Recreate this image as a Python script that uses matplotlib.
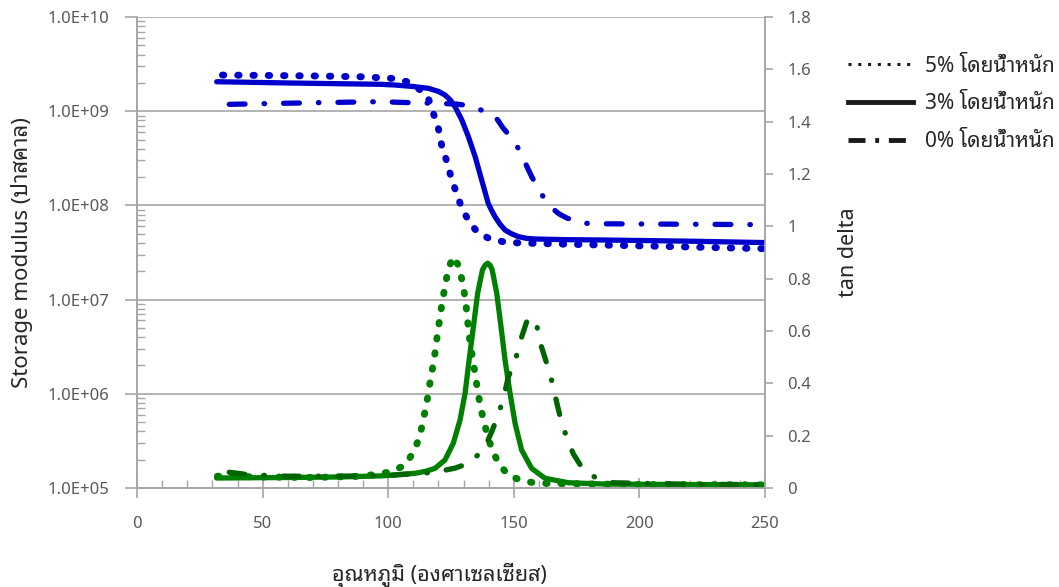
import numpy as np
import matplotlib
matplotlib.use('Agg')
import matplotlib.pyplot as plt
from matplotlib.lines import Line2D
from matplotlib.ticker import FixedLocator, FuncFormatter, MultipleLocator, NullFormatter

# fuente con glifos tailandeses
plt.rcParams['font.family'] = ['Noto Sans', 'Noto Sans Thai Looped']

# ---- datos ----
# storage modulus (Pa), 5% โดยน้ำหนัก
T_e5 = [34, 50, 70, 90, 101.4, 107.4, 110.0, 112.7, 115.8, 117.8, 119.8, 121.4, 123.4, 125.0, 127.0,
        129.0, 131.8, 135.4, 140.5, 146.5, 152.5, 175, 200, 225, 250]
E_5 = [2.42e9, 2.40e9, 2.37e9, 2.32e9, 2.23e9, 2.06e9, 1.91e9, 1.68e9, 1.41e9, 9.75e8, 6.93e8,
       4.17e8, 2.89e8, 2.00e8, 1.39e8, 9.86e7, 7.00e7, 5.22e7, 4.40e7, 4.08e7, 3.99e7, 3.85e7,
       3.72e7, 3.59e7, 3.47e7]
# 3% โดยน้ำหนัก
T_e3 = [31.7, 60, 80, 96.7, 102.7, 110, 116.0, 120, 122.6, 124.7, 126.6, 129.3, 131.9, 134.6,
        137.2, 138.5, 139.8, 141.2, 142.5, 144.5, 146.5, 149, 151.8, 155, 158.4, 170, 186.3, 220, 250]
E_3 = [2.056e9, 1.995e9, 1.959e9, 1.932e9, 1.897e9, 1.828e9, 1.750e9, 1.622e9, 1.486e9, 1.318e9,
       1.117e9, 8.07e8, 5.37e8, 3.30e8, 1.86e8, 1.40e8, 1.052e8, 8.79e7, 7.59e7, 6.31e7, 5.48e7,
       5.01e7, 4.66e7, 4.47e7, 4.40e7, 4.33e7, 4.29e7, 4.17e7, 4.03e7]
# 0% โดยน้ำหนัก
T_e0 = [36.7, 70, 96.7, 109.9, 120, 127.3, 130.2, 135, 140.8, 143.5, 145.7, 148.1, 150.5, 153.8,
        157.1, 158.8, 160.4, 162.5, 164.8, 168, 171.1, 174.4, 178.3, 185.5, 220, 250]
E_0 = [1.183e9, 1.230e9, 1.262e9, 1.230e9, 1.211e9, 1.191e9, 1.164e9, 1.072e9, 9.51e8, 8.13e8,
       6.64e8, 5.58e8, 4.71e8, 3.11e8, 2.02e8, 1.69e8, 1.40e8, 1.15e8, 9.55e7, 8.13e7, 7.35e7,
       6.82e7, 6.46e7, 6.38e7, 6.31e7, 6.24e7]

# tan delta
T_t5 = [32, 50, 70, 90, 101.4, 106.7, 110.0, 112.3, 113.7, 114.9, 116.0, 116.9, 118.0, 118.9,
        119.7, 120.6, 121.5, 122.6, 123.7, 125.7, 128.3, 129.5, 130.6, 131.3, 131.9, 132.6, 133.6,
        134.6, 135.5, 136.5, 137.9, 139.4, 141.2, 143.8, 147.6, 153.1, 159.1, 200, 250]
tan_5 = [0.045, 0.042, 0.04, 0.045, 0.062, 0.088, 0.136, 0.19, 0.247, 0.307, 0.362, 0.42, 0.476,
         0.536, 0.595, 0.652, 0.712, 0.769, 0.827, 0.884, 0.846, 0.786, 0.729, 0.67, 0.61, 0.553,
         0.496, 0.436, 0.378, 0.321, 0.26, 0.205, 0.149, 0.097, 0.05, 0.028, 0.018, 0.013, 0.012]
T_t3 = [31.7, 60, 80, 96.7, 102.7, 110.7, 115, 118.6, 122.6, 125.9, 128.6, 130.6, 132.2, 133.9,
        135.6, 137.5, 138.6, 139.6, 140.5, 141.4, 143.2, 144.9, 146.5, 148.5, 150.5, 153.1, 157.1,
        162.4, 171.7, 186.3, 220, 250]
tan_3 = [0.038, 0.04, 0.042, 0.046, 0.05, 0.056, 0.064, 0.075, 0.107, 0.171, 0.26, 0.362, 0.489,
         0.616, 0.744, 0.833, 0.852, 0.859, 0.852, 0.833, 0.744, 0.616, 0.489, 0.362, 0.247, 0.145,
         0.075, 0.037, 0.020, 0.015, 0.013, 0.012]
T_t0 = [36.7, 45, 60, 80, 100, 118.6, 126.6, 132.6, 138.3, 141.2, 143.8, 146.1, 147.8, 150.5,
        152.5, 155.1, 156.4, 157.8, 159.1, 160.8, 163.1, 165.1, 166.5, 168.5, 171.1, 173.7, 177.7,
        183.0, 189.5, 220, 250]
tan_0 = [0.06, 0.05, 0.045, 0.045, 0.048, 0.06, 0.076, 0.096, 0.152, 0.215, 0.279, 0.352, 0.425,
         0.483, 0.559, 0.635, 0.652, 0.645, 0.623, 0.546, 0.476, 0.41, 0.35, 0.27, 0.19, 0.13,
         0.069, 0.037, 0.02, 0.014, 0.013]

etiquetas = ['5% โดยน้ำหนัก', '3% โดยน้ำหนัก', '0% โดยน้ำหนัก']

# estilos (en unidades de grosor de línea)
punteado = (0, (0.2, 2.0))
rayapunto = (0, (3, 3.6, 0.1, 3.6))
azul = '#0000CD'
verde = '#008000'
verde_osc = '#006400'
gris = '#A6A6A6'
lw = 3.8
lw_pt = 5.0

fig = plt.figure(figsize=(10.59, 5.87), dpi=100)
ax = fig.add_axes([0.1294, 0.1687, 0.5930, 0.8023])
ax2 = ax.twinx()

ax.plot(T_e5, E_5, color=azul, lw=lw_pt, ls=punteado, dash_capstyle='round', zorder=3)
ax.plot(T_e3, E_3, color=azul, lw=lw, ls='-', solid_capstyle='round', zorder=3)
ax.plot(T_e0, E_0, color=azul, lw=lw, ls=rayapunto, dash_capstyle='round', zorder=3)

ax2.plot(T_t5, tan_5, color=verde, lw=lw_pt, ls=punteado, dash_capstyle='round')
ax2.plot(T_t3, tan_3, color=verde, lw=lw, ls='-', solid_capstyle='round')
ax2.plot(T_t0, tan_0, color=verde_osc, lw=lw, ls=rayapunto, dash_capstyle='round')

ax.set_yscale('log')
ax.set_ylim(1e5, 1e10)
ax.set_xlim(0, 250)
ax2.set_ylim(0, 1.8)

ax.yaxis.set_major_locator(FixedLocator([1e5, 1e6, 1e7, 1e8, 1e9, 1e10]))
ax.yaxis.set_major_formatter(FuncFormatter(lambda v, p: '1.0E+%02d' % round(np.log10(v))))
ax.yaxis.set_minor_locator(FixedLocator([m * 10.0 ** e for e in range(5, 10) for m in range(2, 10)]))
ax.yaxis.set_minor_formatter(NullFormatter())
ax.xaxis.set_major_locator(MultipleLocator(50))
ax.xaxis.set_minor_locator(MultipleLocator(10))
ax2.yaxis.set_major_locator(MultipleLocator(0.2))
ax2.yaxis.set_major_formatter(FuncFormatter(lambda v, p: '%g' % round(v, 1)))

ax.grid(True, which='major', axis='y', color=gris, lw=1.2)
ax.set_axisbelow(True)

ax.spines['top'].set_visible(False)
ax2.spines['top'].set_visible(False)
for a in (ax, ax2):
    for s in ['left', 'right', 'bottom']:
        a.spines[s].set_color(gris)
        a.spines[s].set_linewidth(1.2)

ax.tick_params(axis='y', which='major', direction='out', length=9, width=1.2, color=gris,
               labelsize=12, labelcolor='#595959', pad=11)
ax.tick_params(axis='y', which='minor', direction='in', length=6, width=1.0, color=gris)
ax.tick_params(axis='x', which='major', direction='inout', length=14, width=1.2, color=gris,
               labelsize=12, labelcolor='#595959', pad=13)
ax.tick_params(axis='x', which='minor', direction='in', length=6, width=1.0, color=gris)
ax2.tick_params(axis='y', which='major', direction='out', length=6, width=1.2, color=gris,
                labelsize=12, labelcolor='#595959', pad=10)

ax.set_ylabel('Storage modulus (ปาสคาล)', fontsize=16, color='#262626', labelpad=10)
ax2.set_ylabel('tan delta', fontsize=15.5, color='#262626', labelpad=19)
ax.set_xlabel('อุณหภูมิ (องศาเซลเซียส)', fontsize=15.5, color='#262626')
ax.xaxis.set_label_coords(0.482, -0.158)

# leyenda con líneas negras
handles = [Line2D([], [], color='#1a1a1a', lw=2.2, ls=(0, (1, 2.2))),
           Line2D([], [], color='#1a1a1a', lw=3.5, ls='-'),
           Line2D([], [], color='#1a1a1a', lw=3.5, ls=(0, (3.5, 2, 0.8, 2)))]
fig.legend(handles, etiquetas, loc='upper left', bbox_to_anchor=(0.783, 0.937), frameon=False,
           fontsize=15, handlelength=3.1, labelspacing=0.8, handletextpad=0.58,
           labelcolor='#262626')

fig.savefig('out.png')
